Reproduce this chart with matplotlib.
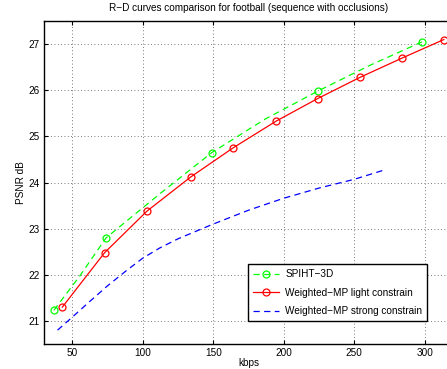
import matplotlib
matplotlib.use('Agg')
import matplotlib.pyplot as plt

# SPIHT-3D (markers on every other point)
spiht_kbps = [37, 55.5, 74, 111.5, 149, 186.5, 224, 261, 298]
spiht_psnr = [21.23, 21.98, 22.8, 23.74, 24.65, 25.37, 25.98, 26.54, 27.05]

# Weighted-MP light constrain
light_kbps = [43, 73, 103, 134, 164, 194.5, 224, 254, 284, 313.5]
light_psnr = [21.3, 22.48, 23.38, 24.12, 24.75, 25.33, 25.82, 26.28, 26.7, 27.1]

# Weighted-MP strong constrain
strong_kbps = [39.6, 50, 62, 75, 88, 100, 112, 125, 150, 175, 200, 225, 250, 270]
strong_psnr = [20.8, 21.08, 21.41, 21.76, 22.08, 22.36, 22.58, 22.78, 23.1, 23.4, 23.66, 23.88, 24.07, 24.26]

xticks = [50, 100, 150, 200, 250, 300]
yticks = [21, 22, 23, 24, 25, 26, 27]

plt.rcParams['font.family'] = ['Liberation Sans', 'DejaVu Sans']
plt.rcParams['font.size'] = 7.2

fig = plt.figure(figsize=(4.47, 3.69), dpi=100)
ax = fig.add_axes([0.0984, 0.0678, 0.915, 0.875])

ax.plot(spiht_kbps, spiht_psnr, '--o', color=(0, 1, 0), lw=0.9, ms=5,
        mfc='none', mew=0.9, dashes=(5, 3.5), markevery=2, label='SPIHT\u22123D')
ax.plot(light_kbps, light_psnr, '-o', color=(1, 0, 0), lw=0.9, ms=5,
        mfc='none', mew=0.9, label='Weighted\u2212MP light constrain')
ax.plot(strong_kbps, strong_psnr, '--', color=(0, 0, 1), lw=0.9,
        dashes=(5, 3.5), label='Weighted\u2212MP strong constrain')

ax.set_xlim(30, 320)
ax.set_ylim(20.5, 27.5)
ax.set_xticks(xticks)
ax.set_yticks(yticks)
ax.grid(True, linestyle=(0, (1, 3)), color='0.3', lw=0.6)
ax.tick_params(direction='in', top=True, right=True, length=3, width=0.8, pad=3)
for s in ax.spines.values():
    s.set_linewidth(1.0)

ax.set_xlabel('kbps', labelpad=0)
ax.set_ylabel('PSNR dB', labelpad=2)
ax.set_title('R\u2212D curves comparison for football (sequence with occlusions)',
             fontsize=7.2, pad=7)

leg = ax.legend(loc='lower left', bbox_to_anchor=(0.499, 0.071), borderaxespad=0,
                fancybox=False, framealpha=1, edgecolor='black', fontsize=7.2,
                handlelength=2.6, labelspacing=0.85, borderpad=0.5, handletextpad=0.6)
leg.get_frame().set_linewidth(1.0)

fig.savefig('out.png', dpi=100)
